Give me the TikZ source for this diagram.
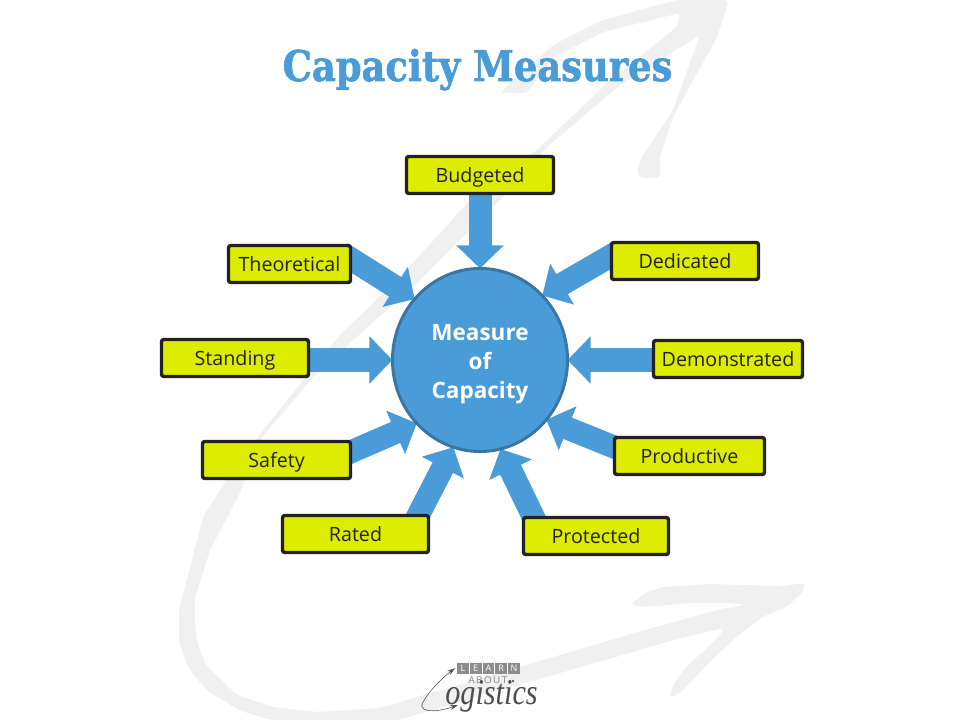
\documentclass[tikz,border=0pt]{standalone}
\usepackage{fontspec}
\usepackage{tikz}
\usetikzlibrary{shapes.geometric,arrows.meta,backgrounds}
\setmainfont{Open Sans}
\newfontfamily\titlefont[BoldFeatures={FakeBold=1.5}]{DejaVu Serif}
\newfontfamily\logofont{Liberation Serif}
\newfontfamily\aboutfont[LetterSpace=14]{Liberation Sans}
\definecolor{cm_blue}{RGB}{74, 156, 216}
\definecolor{cm_edge}{RGB}{58, 118, 163}
\definecolor{cm_lime}{RGB}{221, 236, 0}
\definecolor{cm_dark}{RGB}{34, 34, 34}
\definecolor{cm_pale}{RGB}{240, 240, 240}
\definecolor{cm_logo}{RGB}{140, 140, 140}
\tikzstyle{box}=[rectangle,rounded corners=0.06cm,fill=cm_lime,draw=cm_dark,text=cm_dark,
  line width=0.085cm,outer sep=0pt,inner sep=0pt,minimum height=0.925cm,
  text height=0.5cm,text depth=0.115cm,font=\fontsize{14}{17}\selectfont]
\tikzstyle{hub}=[ellipse,fill=cm_blue,draw=cm_edge,text=white,line width=0.075cm,
  outer sep=0pt,inner sep=0pt,minimum width=4.375cm,minimum height=4.575cm,align=center,
  font=\fontsize{16}{20.6}\selectfont\bfseries]
\tikzstyle{feed}=[draw=cm_blue,line width=0.575cm,-{Triangle[length=0.575cm,width=1.15cm,fill=cm_blue]}]
\tikzstyle{tile}=[rectangle,fill=cm_logo,text=white,inner sep=0pt,minimum width=0.295cm,
  minimum height=0.275cm,font=\fontsize{6.4}{7}\selectfont]

\begin{document}
\begin{tikzpicture}[x=0.025cm,y=-0.025cm]
        \useasboundingbox (0,0) rectangle (960,720);
        \node [style=hub] (measure) at (480,360) {\rule{0pt}{17pt}Measure\\of\\Capacity};
        \node [style=box,minimum width=3.675cm] (budgeted) at (480,175) {Budgeted};
        \node [style=box,minimum width=3.05cm] (theoretical) at (289.5,264) {Theoretical};
        \node [style=box,minimum width=3.675cm] (dedicated) at (685,261) {Dedicated};
        \node [style=box,minimum width=3.675cm] (standing) at (235,358) {Standing};
        \node [style=box,minimum width=3.725cm] (demonstrated) at (728,359) {Demonstrated};
        \node [style=box,minimum width=3.7cm] (safety) at (276.5,460) {Safety};
        \node [style=box,minimum width=3.75cm] (productive) at (689.5,456) {Productive};
        \node [style=box,minimum width=3.65cm] (rated) at (355.5,534) {Rated};
        \node [style=box,minimum width=3.625cm] (protected) at (596,536) {Protected};
        \begin{scope}[on background layer]
        \fill [cm_pale,rounded corners=3pt] (677,0) -- (728,0) -- (728,4) -- (717,37) -- (673,117) -- (660,157)
          -- (660,178) -- (640,178) -- (637,170) -- (642,157) -- (673,110) -- (700,35)
          -- (620,85) -- (547,147) -- (507,193) -- (457,243) -- (413,287) -- (370,325)
          -- (313,377) -- (260,440) -- (240,493) -- (210,550) -- (207,560) -- (195,597)
          -- (195,623) -- (197,643) -- (206,665) -- (237,695) -- (273,707) -- (317,712)
          -- (380,708) -- (645,630) -- (721,609) -- (746,605) -- (735,603) -- (690,603)
          -- (645,607) -- (630,605) -- (645,593) -- (663,587) -- (708,584) -- (782,586)
          -- (805,583) -- (803,592) -- (786,607) -- (762,617) -- (735,638) -- (712,660)
          -- (681,692) -- (670,698) -- (672,687) -- (686,667) -- (719,637) -- (724,628)
          -- (681,638) -- (398,720) -- (270,720) -- (239,710) -- (206,690) -- (188,667)
          -- (179,642) -- (179,610) -- (192,560) -- (203,517) -- (237,463) -- (293,393)
          -- (340,335) -- (400,277) -- (473,197) -- (537,150) -- (607,83) -- (673,30)
          -- (678,25) -- (680,13) -- (603,32) -- (553,58) -- (527,93) -- (500,93)
          -- (553,45) -- (603,20) -- cycle;
        \draw [style=feed] (budgeted.south) to (measure.north);
        \draw [style=feed] ([shift={(-9,-11)}]theoretical.east) to (measure.137);
        \draw [style=feed] ([shift={(6,-9)}]dedicated.west) to (measure.46);
        \draw [style=feed] (standing.east |- measure.west) to (measure.west);
        \draw [style=feed] (demonstrated.west |- measure.east) to (measure.east);
        \draw [style=feed] ([shift={(-7,-5)}]safety.east) to (measure.225);
        \draw [style=feed] ([shift={(7,-6)}]productive.west) to (measure.318);
        \draw [style=feed] ([shift={(-14,7)}]rated.north east) to (measure.253);
        \draw [style=feed] ([shift={(13.5,7)}]protected.north west) to (measure.283);
        \end{scope}
        \node [text=cm_blue,anchor=base,inner sep=0pt,font=\fontsize{26.2}{34}\titlefont\bfseries] (title) at (477.5,81) {\scalebox{1}[1.15]{Capacity Measures}};
        \node [style=tile] (logol) at (463,668.5) {L};
        \node [style=tile] (logoe) at (475.7,668.5) {E};
        \node [style=tile] (logoa) at (488.5,668.5) {A};
        \node [style=tile] (logor) at (501.2,668.5) {R};
        \node [style=tile] (logon) at (514,668.5) {N};
        \node [text=cm_logo,inner sep=0pt,font=\fontsize{7}{8}\aboutfont] (logoabout) at (488,680) {ABOUT};
        \fill [cm_logo!70!black] (513,681) circle (1.3);
        \node [text=cm_logo!55!black,inner sep=0pt,font=\fontsize{21.5}{24}\logofont\itshape] (logotext) at (491.5,696) {\scalebox{1}[1.2]{ogistics}};
        \draw [cm_logo!55!black,line width=0.4pt,-{Stealth[length=0.2cm,width=0.12cm]}]
          (422,704) .. controls (428,692) and (440,680) .. (455,668);
        \draw [cm_logo!55!black,line width=0.4pt,-{Stealth[length=0.2cm,width=0.12cm]}]
          (422,704) .. controls (420,712) and (435,713) .. (458,705);
    \end{tikzpicture}
\end{document}
